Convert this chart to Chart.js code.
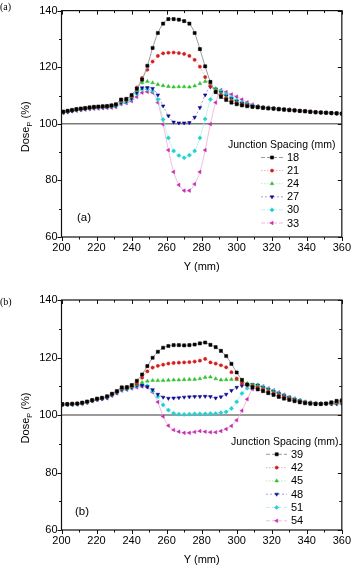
<!DOCTYPE html>
<html>
<head>
<meta charset="utf-8">
<script src="https://cdn.jsdelivr.net/npm/chart.js@4.4.0/dist/chart.umd.min.js"></script>
<style>
  html, body { margin: 0; padding: 0; background: #fff; }
  .wrap { position: relative; width: 355px; height: 285px; }
  canvas { display: block; }
</style>
</head>
<body>
<div class="wrap"><canvas id="c1" width="355" height="285"></canvas></div>
<div class="wrap"><canvas id="c2" width="355" height="285"></canvas></div>
<script>
// ---------------- DATA ----------------
const xTop = [201, 203.5, 206, 208.5, 211, 213.5, 216, 218.5, 221, 223.5, 226, 228.5, 231,
  234, 237, 240, 243, 246, 249, 252, 255, 258, 261, 264, 267, 270, 273, 276, 279, 282, 285, 288, 291,
  294, 297, 300, 303, 306, 309, 312, 315, 318, 321, 324, 327, 330, 333, 336, 339, 342, 345, 348, 351, 354, 357, 360];

const top18 = [104.3,104.6,104.9,105.2,105.4,105.6,105.8,106.0,106.1,106.2,106.3,106.5,106.9,
  108.6,108.8,110.2,112.4,115.6,120.5,126.8,132.1,135.4,137.0,137.0,136.8,136.3,135.4,132.1,126.4,120.3,114.8,111.2,109.5,
  108.4,107.5,106.9,106.5,106.2,106.0,105.8,105.6,105.4,105.3,105.1,105.0,104.8,104.7,104.5,104.4,104.2,104.1,104.0,103.9,103.8,103.7,103.6];
const top21 = [104.2,104.5,104.8,105.1,105.3,105.5,105.7,105.9,106.0,106.1,106.2,106.4,106.7,
  108.2,108.5,109.8,112.8,116.2,119.1,122.0,124.0,124.9,125.1,125.2,125.0,124.7,124.0,122.6,120.2,116.5,113.3,111.5,110.1,
  109.0,108.0,107.3,106.8,106.4,106.1,105.9,105.7,105.5,105.4,105.2,105.1,104.9,104.8,104.6,104.5,104.3,104.1,104.0,103.9,103.8,103.7,103.6];
const top24 = [104.1,104.4,104.7,105.0,105.2,105.4,105.6,105.8,105.9,106.0,106.1,106.3,106.6,
  107.9,108.3,109.5,111.8,114.5,115.0,114.5,113.9,113.5,113.2,113.0,113.1,113.1,113.0,113.4,114.2,115.0,114.2,112.4,110.7,
  109.4,108.4,107.6,107.0,106.6,106.2,106.0,105.8,105.6,105.5,105.3,105.1,105.0,104.8,104.6,104.5,104.3,104.1,104.0,103.9,103.8,103.7,103.6];
const top27 = [104.0,104.3,104.6,104.9,105.1,105.3,105.5,105.7,105.8,105.9,106.0,106.2,106.4,
  107.5,108.0,109.0,111.0,112.7,112.8,112.5,110.2,106.3,102.8,100.6,100.3,100.3,100.4,102.3,105.7,110.2,113.0,112.3,111.0,
  109.8,108.8,107.9,107.2,106.7,106.3,106.0,105.8,105.6,105.5,105.3,105.1,105.0,104.8,104.6,104.5,104.3,104.1,104.0,103.9,103.8,103.7,103.6];
const top30 = [104.0,104.2,104.5,104.8,105.0,105.2,105.4,105.6,105.7,105.8,105.9,106.0,106.2,
  107.2,107.7,108.7,110.6,112.2,112.2,111.6,108.6,101.5,95.0,90.4,88.8,88.0,88.9,90.4,95.0,101.7,108.6,112.3,111.6,
  110.5,109.4,108.4,107.6,107.0,106.5,106.1,105.9,105.7,105.5,105.3,105.1,105.0,104.8,104.6,104.5,104.3,104.1,104.0,103.9,103.8,103.7,103.6];
const top33 = [103.9,104.1,104.4,104.6,104.8,105.0,105.2,105.3,105.4,105.5,105.6,105.7,105.9,
  106.9,107.3,108.0,109.5,111.0,111.3,111.0,107.5,99.8,90.7,83.0,78.4,76.4,76.4,78.7,83.0,90.7,99.9,107.5,111.9,
  111.2,110.4,109.6,108.6,107.6,106.8,106.3,105.9,105.7,105.5,105.3,105.1,105.0,104.8,104.6,104.5,104.3,104.1,104.0,103.9,103.8,103.7,103.6];

const xBot = [200.5, 203.3, 206.1, 209, 211.8, 214.6, 217.5, 220.3, 223.1, 226, 228.8, 231.6, 234.4, 237.3, 240.1, 243,
  246, 249, 252, 255, 258, 261, 264, 267, 270, 273, 276, 279, 282, 285, 288, 291, 294, 297, 300, 303, 306, 309,
  312, 315, 318, 321, 324, 327, 330, 333, 336, 339, 342, 345, 348, 351, 354, 357, 360];

const bot39 = [103.8,103.8,103.9,104.0,104.3,104.7,105.2,105.7,106.0,106.5,107.4,108.3,109.6,109.7,110.4,111.9,
  114.1,117.0,119.9,122.0,123.4,124.0,124.3,124.3,124.2,124.3,124.5,124.9,125.2,124.4,123.6,122.3,120.5,117.8,114.8,112.2,110.6,109.6,
  108.9,108.3,107.6,107.0,106.3,105.7,105.2,104.8,104.4,104.1,103.9,103.8,103.8,104.0,104.4,104.9,105.1];
const bot42 = [103.8,103.8,103.9,104.0,104.2,104.6,105.1,105.6,105.9,106.4,107.3,108.1,109.3,109.5,110.1,111.0,
  113.0,115.2,116.5,117.1,117.5,117.9,118.1,118.2,118.3,118.4,118.6,118.9,119.5,118.3,117.9,117.3,116.6,114.9,112.7,111.0,110.4,110.0,
  109.5,108.8,108.1,107.4,106.8,106.2,105.6,105.1,104.7,104.3,104.1,103.9,103.9,104.0,104.2,104.5,104.7];
const bot45 = [103.7,103.8,103.8,103.9,104.2,104.5,105.0,105.5,105.8,106.3,107.2,108.0,109.1,109.4,109.9,110.6,
  111.3,111.8,112.0,112.0,112.0,112.1,112.2,112.2,112.3,112.4,112.4,112.6,113.1,113.2,112.6,112.2,112.3,112.4,112.3,111.7,111.0,110.5,
  110.1,109.3,108.6,107.9,107.2,106.5,105.9,105.3,104.9,104.5,104.2,104.0,103.9,103.9,104.0,104.2,104.3];
const bot48 = [103.6,103.7,103.7,103.8,104.1,104.4,104.9,105.4,105.7,106.1,107.0,107.8,108.9,109.2,109.7,110.3,
  110.3,109.8,108.8,107.2,106.2,105.8,105.9,106.0,106.2,106.3,106.4,106.4,106.5,106.4,105.9,106.3,107.2,108.5,109.6,110.2,110.5,110.6,
  110.3,109.5,108.8,108.1,107.4,106.7,106.0,105.4,104.9,104.5,104.2,104.0,103.9,103.9,103.9,104.0,104.1];
const bot51 = [103.6,103.6,103.7,103.8,104.0,104.4,104.9,105.3,105.6,106.0,106.9,107.7,108.7,109.0,109.5,110.0,
  110.4,110.1,108.3,106.4,103.5,101.7,100.6,100.3,100.2,100.3,100.4,100.4,100.4,100.5,100.5,100.8,101.1,102.3,104.6,107.5,109.3,110.4,
  110.5,109.8,109.1,108.4,107.6,106.9,106.2,105.6,105.1,104.6,104.3,104.1,104.0,103.9,103.9,103.9,104.0];
const bot54 = [103.5,103.5,103.6,103.7,103.9,104.3,104.8,105.2,105.5,105.8,106.7,107.5,108.5,108.8,109.2,109.6,
  109.9,109.6,107.9,104.5,99.5,96.3,94.8,94.2,93.8,93.8,94.1,94.4,94.2,94.0,94.0,94.4,95.1,96.2,98.2,101.5,105.5,109.0,
  110.3,110.0,109.3,108.6,107.9,107.1,106.3,105.7,105.1,104.6,104.3,104.1,104.0,103.9,103.8,103.8,103.8];

const labelsTop = ['18', '21', '24', '27', '30', '33'];
const labelsBot = ['39', '42', '45', '48', '51', '54'];
const legendTitle = 'Junction Spacing (mm)';
const xTitle = 'Y (mm)';
const xRange = [200, 360];
const yRange = [60, 140];

// ---------------- STYLES ----------------
const FONT = "'Liberation Sans', Arial, Helvetica, sans-serif";
const styles = [
  { color: '#000000', line: '#9a9a9a', dash: [], style: 'rect', rot: 0, r: 2.2 },
  { color: '#d41c1c', line: 'rgba(225,120,120,0.6)', dash: [1.5, 1.5], style: 'circle', rot: 0, r: 1.6 },
  { color: '#2fc02f', line: 'rgba(140,225,140,0.6)', dash: [1.5, 1.5], style: 'triangle', rot: 0, r: 2.1 },
  { color: '#0a0a8c', line: 'rgba(100,100,210,0.6)', dash: [2, 2], style: 'triangle', rot: 180, r: 2.1 },
  { color: '#22d0d0', line: 'rgba(160,238,238,0.7)', dash: [], style: 'rectRot', rot: 0, r: 2.1 },
  { color: '#c030b0', line: 'rgba(242,170,210,0.8)', dash: [], style: 'triangle', rot: 270, r: 2.1 }
];

function drawMarker(ctx, st, x, y) {
  ctx.save();
  ctx.fillStyle = st.color;
  ctx.strokeStyle = st.color;
  ctx.lineWidth = 0.5;
  if (Chart.helpers && Chart.helpers.drawPoint) {
    Chart.helpers.drawPoint(ctx, { pointStyle: st.style, rotation: st.rot, radius: st.r, borderWidth: 0.5 }, x, y);
  } else {
    ctx.beginPath(); ctx.arc(x, y, st.r, 0, Math.PI * 2); ctx.fill();
  }
  ctx.restore();
}

const decor = {
  id: 'decor',
  beforeDatasetsDraw(chart) {
    const { ctx, chartArea: a, scales: { y } } = chart;
    const y100 = y.getPixelForValue(100);
    ctx.save();
    ctx.strokeStyle = '#7a7a7a';
    ctx.lineWidth = 1.5;
    ctx.beginPath(); ctx.moveTo(a.left, y100); ctx.lineTo(a.right, y100); ctx.stroke();
    ctx.restore();
  },
  afterDraw(chart, args, o) {
    const { ctx, chartArea: a, scales: { x, y } } = chart;
    ctx.save();
    ctx.strokeStyle = '#111';
    ctx.lineWidth = 1.2;
    ctx.strokeRect(a.left, a.top, a.right - a.left, a.bottom - a.top);
    ctx.lineWidth = 1;
    ctx.beginPath();
    for (let v = x.min; v <= x.max; v += 10) {
      const px = Math.round(x.getPixelForValue(v)) + 0.5;
      const L = (v % 20 === 0) ? 4 : 2.5;
      ctx.moveTo(px, a.bottom); ctx.lineTo(px, a.bottom + L);
      ctx.moveTo(px, a.top); ctx.lineTo(px, a.top + L);
    }
    for (let v = y.min; v <= y.max; v += 10) {
      const py = Math.round(y.getPixelForValue(v)) + 0.5;
      const L = (v % 20 === 0) ? 4 : 2.5;
      ctx.moveTo(a.left, py); ctx.lineTo(a.left - L, py);
      ctx.moveTo(a.right, py); ctx.lineTo(a.right - L, py);
    }
    ctx.stroke();

    // y title: Dose_P (%)
    ctx.fillStyle = '#000';
    ctx.textBaseline = 'alphabetic';
    const f1 = `11px ${FONT}`, f2 = `7.5px ${FONT}`;
    ctx.font = f1;
    const w1 = ctx.measureText('Dose').width;
    const w3 = ctx.measureText(' (%)').width;
    ctx.font = f2;
    const w2 = ctx.measureText('P').width;
    const total = w1 + w2 + w3;
    const cy = (a.top + a.bottom) / 2 + 3;
    ctx.translate(o.yTitleX, cy);
    ctx.rotate(-Math.PI / 2);
    ctx.textAlign = 'left';
    ctx.font = f1;
    ctx.fillText('Dose', -total / 2, 4);
    ctx.font = f2;
    ctx.fillText('P', -total / 2 + w1, 6.5);
    ctx.font = f1;
    ctx.fillText(' (%)', -total / 2 + w1 + w2, 4);
    ctx.setTransform(1, 0, 0, 1, 0, 0);

    // legend
    const lg = o.legend;
    ctx.textAlign = 'left';
    ctx.textBaseline = 'middle';
    ctx.font = `10.5px ${FONT}`;
    ctx.fillText(legendTitle, lg.titleX, lg.titleY);
    chart.data.datasets.forEach((ds, i) => {
      const st = styles[i];
      const yy = lg.rowY0 + i * lg.rowDy;
      ctx.save();
      ctx.strokeStyle = st.line;
      ctx.lineWidth = 1;
      ctx.setLineDash(st.dash.length ? st.dash : [4, 2]);
      ctx.beginPath(); ctx.moveTo(lg.lineX0, yy); ctx.lineTo(lg.lineX1, yy); ctx.stroke();
      ctx.restore();
      drawMarker(ctx, st, lg.markX, yy);
      ctx.fillStyle = '#000';
      ctx.font = `11px ${FONT}`;
      ctx.fillText(ds.label, lg.textX, yy + 0.5);
    });

    // panel labels
    ctx.font = `11.5px ${FONT}`;
    ctx.fillText(o.panel, o.innerX, o.innerY);
    ctx.font = `10px 'Liberation Serif', 'Times New Roman', serif`;
    ctx.fillText(o.panel, 0, o.outerY);
    ctx.restore();
  }
};

function makeChart(id, xs, ys, labels, opts) {
  const datasets = ys.map((vals, i) => ({
    label: labels[i],
    data: xs.map((xv, k) => ({ x: xv, y: vals[k] })),
    borderColor: styles[i].line,
    borderWidth: 1,
    borderDash: styles[i].dash,
    pointStyle: styles[i].style,
    rotation: styles[i].rot,
    pointRadius: styles[i].r,
    pointBackgroundColor: styles[i].color,
    pointBorderColor: styles[i].color,
    pointBorderWidth: 0.5,
    tension: 0.3,
    fill: false
  }));
  return new Chart(document.getElementById(id), {
    type: 'line',
    data: { datasets },
    plugins: [decor],
    options: {
      responsive: false,
      animation: false,
      devicePixelRatio: 1,
      layout: { padding: { left: 0, right: 11, top: opts.padTop, bottom: opts.padBottom } },
      scales: {
        x: {
          type: 'linear', min: xRange[0], max: xRange[1],
          grid: { display: false, drawTicks: false },
          border: { display: false },
          ticks: { stepSize: 20, autoSkip: false, maxRotation: 0, padding: 4, color: '#000', font: { family: FONT, size: 11 } },
          title: { display: true, text: xTitle, color: '#000', font: { family: FONT, size: 11 }, padding: { top: 0, bottom: 3 } },
          afterFit(s) { s.height = 40; }
        },
        y: {
          type: 'linear', min: yRange[0], max: yRange[1],
          grid: { display: false, drawTicks: false },
          border: { display: false },
          ticks: { stepSize: 20, padding: 4, color: '#000', font: { family: FONT, size: 11 } },
          afterFit(s) { s.width = 61.5; }
        }
      },
      plugins: {
        legend: { display: false },
        tooltip: { enabled: false },
        decor: opts.decor
      }
    }
  });
}

makeChart('c1', xTop, [top18, top21, top24, top27, top30, top33], labelsTop, {
  padTop: 7, padBottom: 8,
  decor: {
    yTitleX: 25, panel: '(a)', innerX: 77, innerY: 218, outerY: 7,
    legend: { titleX: 228, titleY: 145, rowY0: 157.5, rowDy: 13.1, lineX0: 261, lineX1: 283, markX: 272, textX: 287 }
  }
});
makeChart('c2', xBot, [bot39, bot42, bot45, bot48, bot51, bot54], labelsBot, {
  padTop: 15, padBottom: 0,
  decor: {
    yTitleX: 25, panel: '(b)', innerX: 75, innerY: 227, outerY: 17,
    legend: { titleX: 231, titleY: 157.3, rowY0: 169.3, rowDy: 13.3, lineX0: 266, lineX1: 287, markX: 276.7, textX: 291 }
  }
});
</script>
</body>
</html>
